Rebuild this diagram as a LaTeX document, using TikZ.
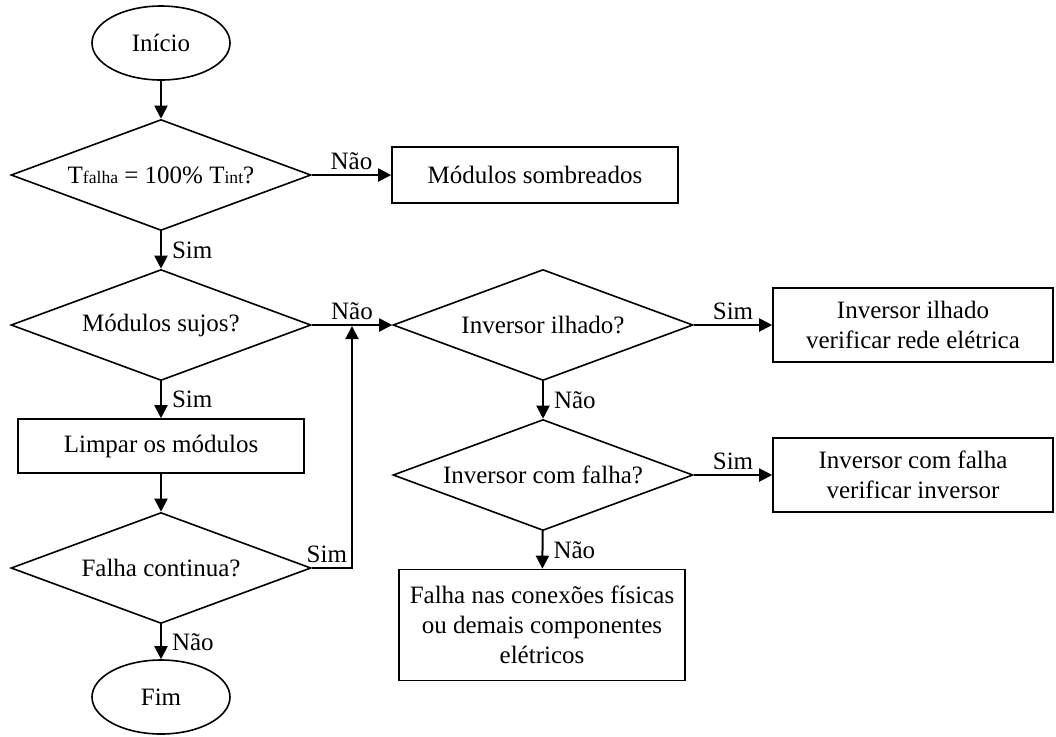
\documentclass[tikz,border=0pt]{standalone}
\usepackage{fontspec}
\setmainfont{Liberation Serif}
\usepackage{tikz}
\usetikzlibrary{shapes.geometric, arrows.meta, positioning}
\tikzset{
  termbox/.style={ellipse, draw, line width=0.8pt, minimum width=69pt, minimum height=37pt, inner sep=0pt, align=center},
  decisionbox/.style={diamond, draw, line width=0.8pt, minimum width=150pt, minimum height=55.5pt, inner sep=0pt, aspect=2.7, align=center},
  procbox/.style={rectangle, draw, line width=0.8pt, minimum width=143pt, minimum height=27pt, inner sep=2pt, align=center},
  arrow/.style={-{Triangle[length=6.5pt, width=6.5pt]}, line width=1pt},
  lbl/.style={inner sep=2pt},
  vlbl/.style={inner sep=2pt, right, xshift=3pt}
}

\begin{document}
\begin{tikzpicture}[x=0.5pt, y=-0.5pt, font=\fontsize{12.5}{15}\selectfont]
  \useasboundingbox (0,0) rectangle (1056,736);

  % Left column
  \node[termbox] (inicio) at (161,43) {Início};
  \node[decisionbox] (q1) at (161,175) {T{\fontsize{8.8}{10}\selectfont falha} = 100\% T{\fontsize{8.8}{10}\selectfont int}?};
  \node[decisionbox] (q2) at (161,325) {Módulos sujos?};
  \node[procbox] (limpar) at (161,446) {Limpar os módulos};
  \node[decisionbox] (q3) at (161,568) {Falha continua?};
  \node[termbox] (fim) at (161,697) {Fim};

  % Middle column
  \node[procbox, minimum height=28pt] (sombra) at (535,175) {Módulos sombreados};
  \node[decisionbox] (q4) at (543,325) {Inversor ilhado?};
  \node[decisionbox] (q5) at (543,475) {Inversor com falha?};
  \node[procbox, minimum height=55.5pt] (conexoes) at (542,625) {Falha nas conexões físicas\\ou demais componentes\\elétricos};

  % Right column
  \node[procbox, minimum width=140pt, minimum height=37pt] (ilhado) at (913,325) {Inversor ilhado\\verificar rede elétrica};
  \node[procbox, minimum width=140pt, minimum height=37pt] (invfalha) at (913,475) {Inversor com falha\\verificar inversor};

  % Vertical links
  \draw[arrow] (inicio) -- (q1);
  \draw[arrow] (limpar) -- (q3);
  \foreach \a/\b/\t in {q1/q2/Sim, q2/limpar/Sim, q3/fim/Não, q4/q5/Não, q5/conexoes/Não} {
    \draw[arrow] (\a) -- node[vlbl] {\t} (\b);
  }

  % Horizontal links
  \foreach \a/\b/\t in {q1/sombra/Não, q2/q4/Não, q4/ilhado/Sim, q5/invfalha/Sim} {
    \draw[arrow] (\a) -- node[lbl, above] {\t} (\b);
  }

  % Loop back
  \coordinate (junc) at (352,326);
  \draw[arrow] (q3.east) -| node[lbl, above left, pos=0.5] {Sim} (junc);
\end{tikzpicture}
\end{document}
